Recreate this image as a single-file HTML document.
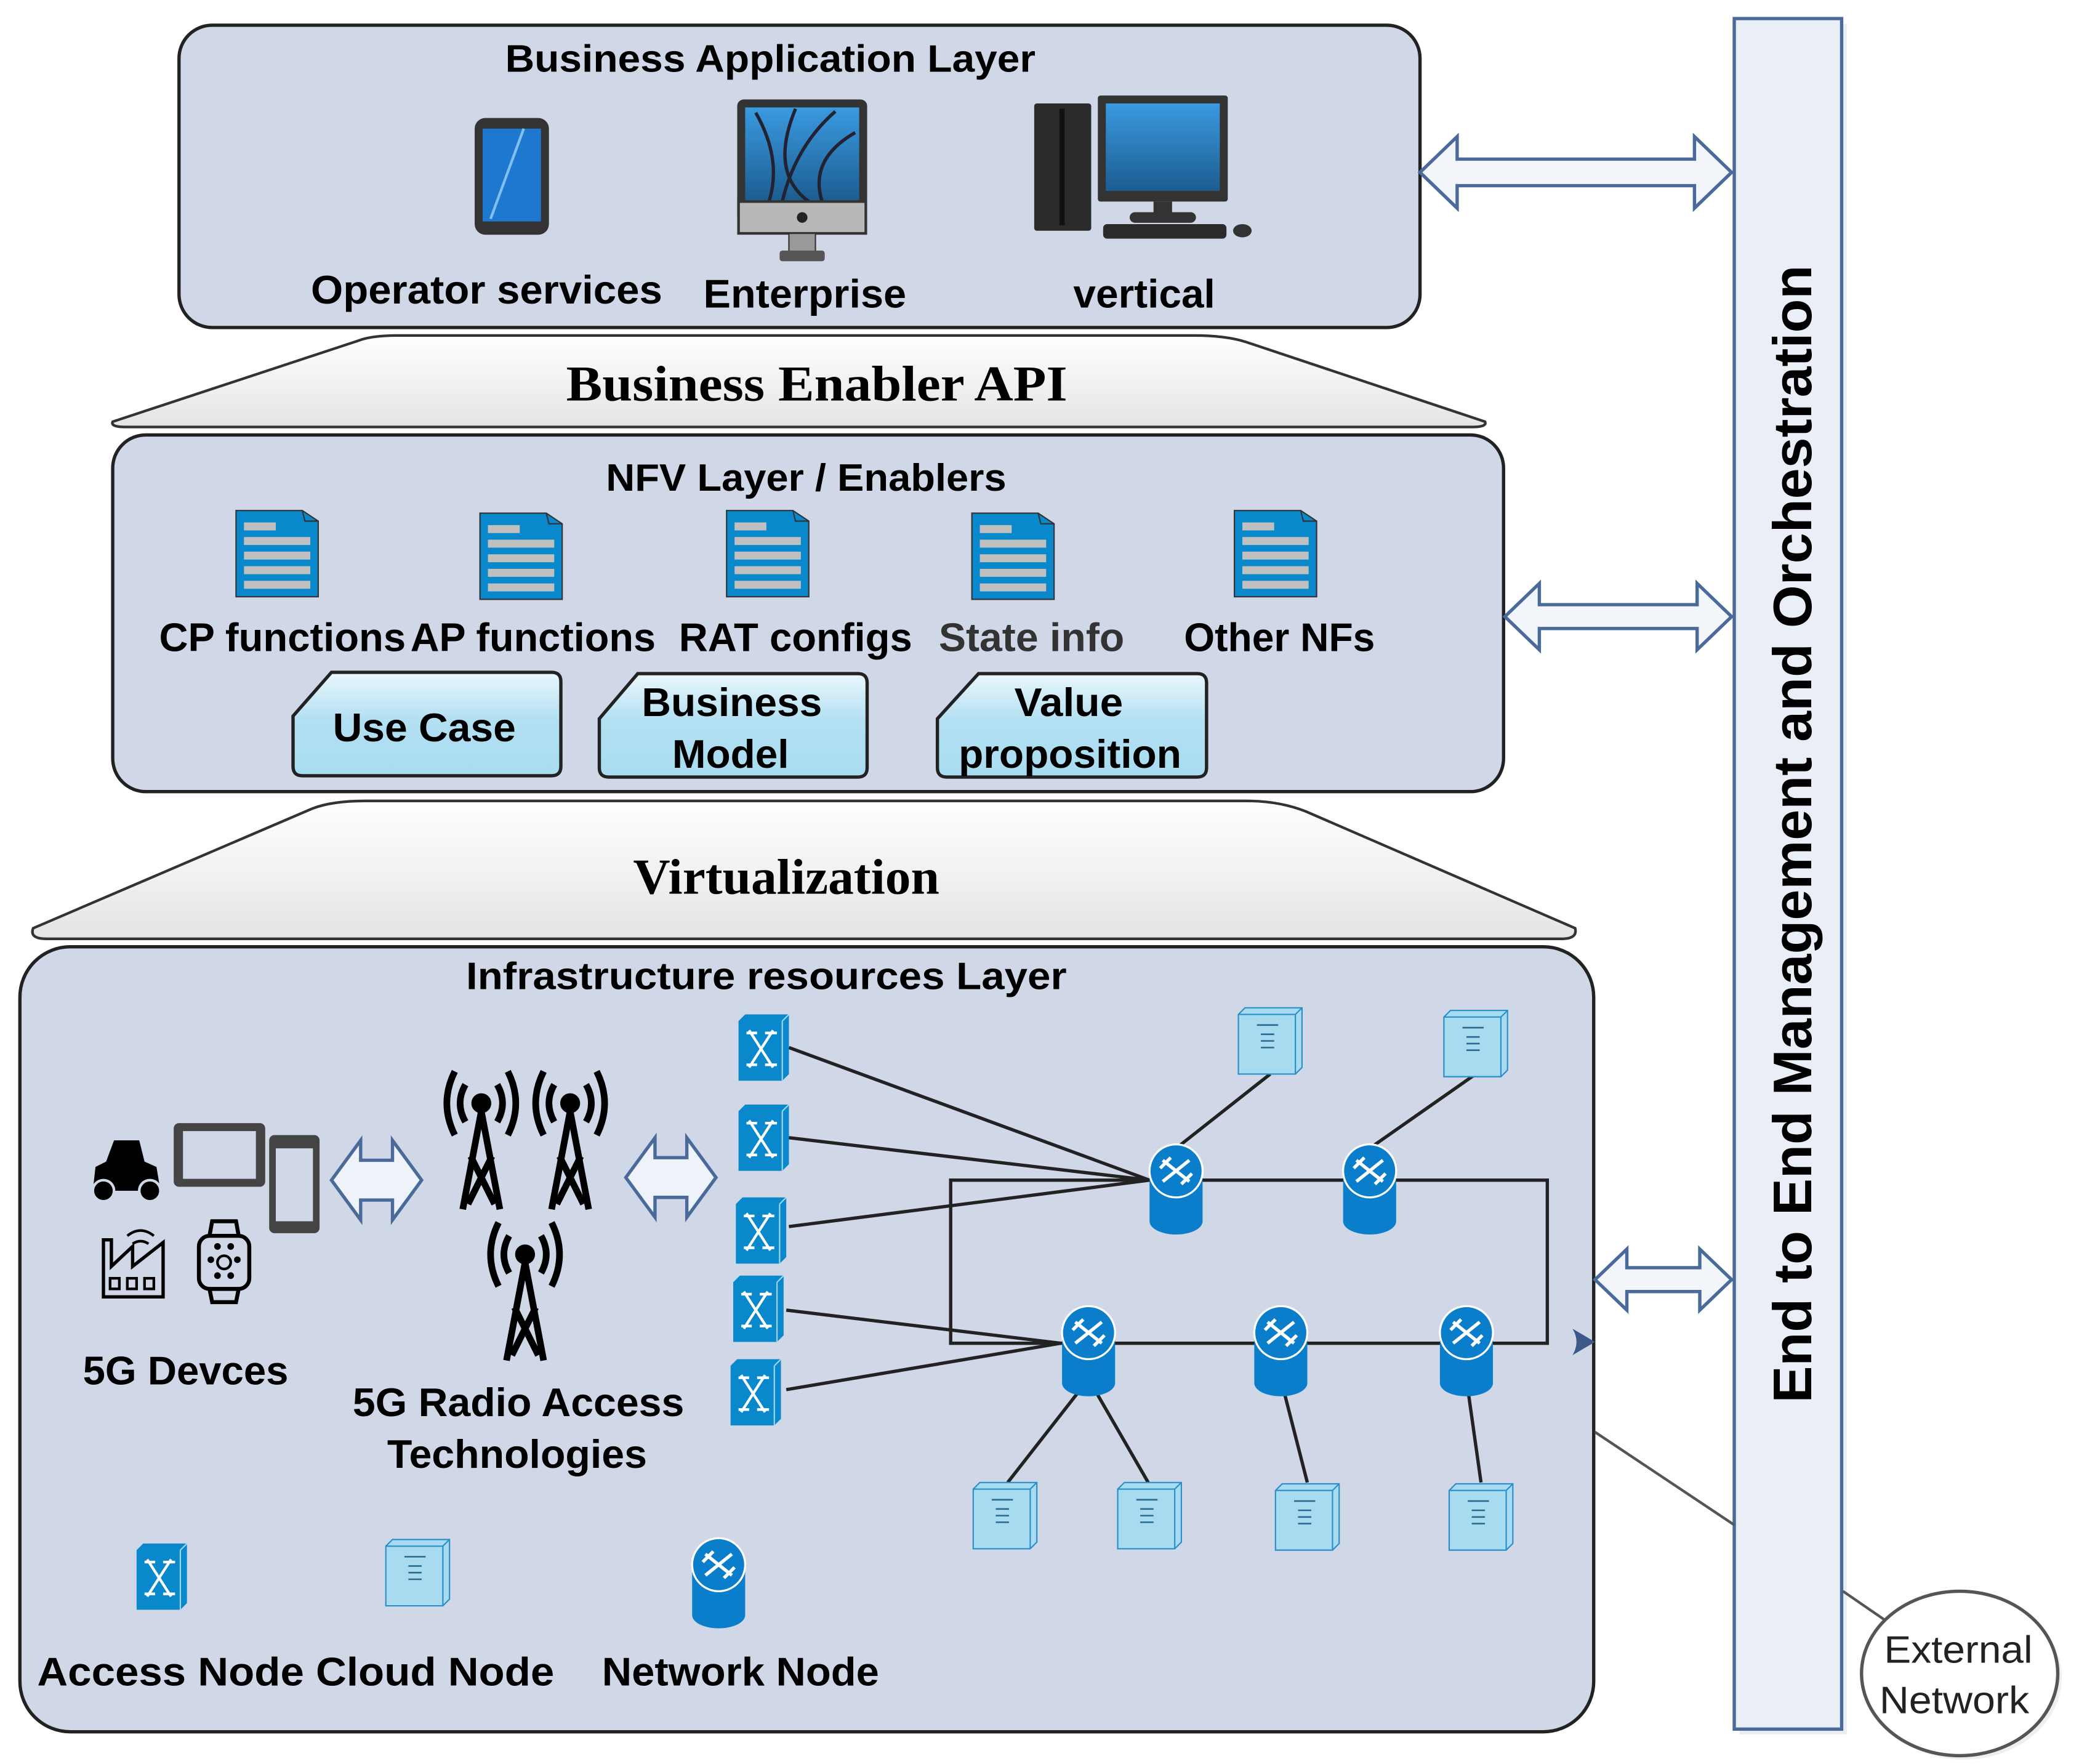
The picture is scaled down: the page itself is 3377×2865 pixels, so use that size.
<!DOCTYPE html>
<html><head><meta charset="utf-8"><style>
html,body{margin:0;padding:0;background:#fff;}
svg{display:block;}
text{font-family:"Liberation Sans",sans-serif;font-weight:bold;fill:#000;}
.serif{font-family:"Liberation Serif",serif;}
</style></head><body>
<svg width="3377" height="2865" viewBox="0 0 1568 1330.3" xmlns="http://www.w3.org/2000/svg">
<defs>
<linearGradient id="trap" x1="0" y1="0" x2="0" y2="1"><stop offset="0" stop-color="#ffffff"/><stop offset="1" stop-color="#e4e4e4"/></linearGradient>
<linearGradient id="btn" x1="0" y1="0" x2="0" y2="1"><stop offset="0" stop-color="#eaf7fc"/><stop offset="0.45" stop-color="#b3e0f2"/><stop offset="1" stop-color="#a9dcf1"/></linearGradient>
<linearGradient id="scr" x1="0" y1="0" x2="0" y2="1"><stop offset="0" stop-color="#3a9ae0"/><stop offset="1" stop-color="#1c5c90"/></linearGradient>
<g id="doc"><path d="M0,0 H50 L62,8 V65 H0 Z" fill="#0a88cc" stroke="#333" stroke-width="1"/><path d="M50,0 L52,8 L62,8" fill="none" stroke="#333"/>
<rect x="6" y="9" width="24" height="6" fill="#c0c0c0"/><rect x="6" y="20" width="50" height="6" fill="#c0c0c0"/><rect x="6" y="31" width="50" height="6" fill="#c0c0c0"/><rect x="6" y="42" width="50" height="6" fill="#c0c0c0"/><rect x="6" y="53" width="50" height="6" fill="#c0c0c0"/></g>
<g id="sw"><path d="M0,5 L5,0 H38 V45 L33,50 H0 Z" fill="#0a88cc"/><path d="M33,5 L38,0 M33,5 V50" stroke="#9fd6f0" stroke-width="1" fill="none"/>
<path d="M8,12 L26,40 M26,12 L8,40 M6,14 H14 M20,14 H29 M6,38 H14 M20,38 H29" stroke="#fff" stroke-width="2" fill="none"/></g>
<g id="srv"><path d="M0,5 L5,0 H48 V45 L43,50 H0 Z" fill="#a8daf0" stroke="#2a8fc8" stroke-width="1"/><path d="M43,5 L48,0 M43,5 V50 M0,5 H43" stroke="#2a8fc8" fill="none"/>
<path d="M14,13 H30 M17,20 H27 M17,25 H27 M17,30 H27" stroke="#2a6a90" stroke-width="1.2"/></g>
<g id="rt"><path d="M-20,0 V38 A20,10 0 0 0 20,38 V0" fill="#0a7ecb"/><ellipse cx="0" cy="0" rx="20" ry="20" fill="#0a7ecb" stroke="#fff" stroke-width="1.5"/>
<path d="M-10,-8 L10,8 M10,-8 L-10,8 M-12,-2 L-4,-10 M4,10 L12,2" stroke="#fff" stroke-width="2.5"/></g>
<g id="tw" fill="none" stroke="#000" stroke-width="5"><circle cx="0" cy="0" r="5" fill="#000"/>
<path d="M-12,-14 Q-20,0 -12,14 M12,-14 Q20,0 12,14 M-20,-24 Q-32,0 -20,24 M20,-24 Q32,0 20,24"/>
<path d="M0,6 L-14,80 M0,6 L14,80 M-8,40 L10,76 M8,40 L-10,76"/></g>
</defs>

<rect x="135" y="19" width="936" height="228" rx="25" fill="#d0d8e8" stroke="#222" stroke-width="2.5"/>
<text x="581" y="54" font-size="29" text-anchor="middle" textLength="400" lengthAdjust="spacingAndGlyphs">Business Application Layer</text>
<rect x="358" y="89" width="56" height="88" rx="8" fill="#333"/><rect x="364" y="97" width="44" height="70" fill="#1e78d0"/><path d="M370,165 L395,97" stroke="#7fc0f0" stroke-width="2"/>
<rect x="556" y="75" width="98" height="92" rx="5" fill="#333"/><rect x="562" y="81" width="86" height="71" fill="url(#scr)"/>
<path d="M570,85 Q590,120 580,152 M600,82 Q580,130 610,152 M630,84 Q600,110 590,152 M645,100 Q610,120 620,152" stroke="#223" stroke-width="2.5" fill="none"/>
<rect x="557" y="152" width="96" height="24" fill="#b8b8b8" stroke="#333" stroke-width="2"/><circle cx="605" cy="164" r="4" fill="#222"/>
<rect x="595" y="176" width="20" height="14" fill="#999" stroke="#333"/><rect x="588" y="189" width="34" height="8" rx="2" fill="#555"/>
<rect x="780" y="78" width="43" height="96" rx="2" fill="#2b2b2b"/><rect x="799" y="82" width="4" height="88" fill="#111"/>
<rect x="828" y="72" width="98" height="80" rx="2" fill="#333"/><rect x="834" y="78" width="86" height="66" fill="url(#scr)"/>
<rect x="870" y="152" width="14" height="10" fill="#333"/><rect x="852" y="160" width="50" height="8" rx="4" fill="#333"/>
<rect x="832" y="169" width="93" height="11" rx="3" fill="#2b2b2b"/><ellipse cx="937" cy="174" rx="7" ry="5" fill="#333"/>
<text x="367" y="229" font-size="30" text-anchor="middle" textLength="265" lengthAdjust="spacingAndGlyphs">Operator services</text>
<text x="607" y="232" font-size="30" text-anchor="middle" textLength="153" lengthAdjust="spacingAndGlyphs">Enterprise</text>
<text x="863" y="232" font-size="30" text-anchor="middle" textLength="107" lengthAdjust="spacingAndGlyphs">vertical</text>

<path d="M85,318 L270,257 Q280,253 300,253 H900 Q925,253 940,258 L1120,318 Q1122,322 1110,322 H95 Q83,322 85,318 Z" fill="url(#trap)" stroke="#333" stroke-width="2"/>
<text x="616" y="302" font-size="38" class="serif" text-anchor="middle" textLength="378" lengthAdjust="spacingAndGlyphs">Business Enabler API</text>

<rect x="85" y="328" width="1049" height="269" rx="25" fill="#d0d8e8" stroke="#222" stroke-width="2.5"/>
<text x="608" y="370" font-size="29" text-anchor="middle" textLength="302" lengthAdjust="spacingAndGlyphs">NFV Layer / Enablers</text>
<use href="#doc" x="178" y="385"/><use href="#doc" x="362" y="387"/><use href="#doc" x="548" y="385"/><use href="#doc" x="733" y="387"/><use href="#doc" x="931" y="385"/>
<text x="213" y="491" font-size="30" text-anchor="middle" textLength="186" lengthAdjust="spacingAndGlyphs">CP functions</text>
<text x="402" y="491" font-size="30" text-anchor="middle" textLength="185" lengthAdjust="spacingAndGlyphs">AP functions</text>
<text x="600" y="491" font-size="30" text-anchor="middle" textLength="176" lengthAdjust="spacingAndGlyphs">RAT configs</text>
<text x="778" y="491" font-size="30" text-anchor="middle" textLength="140" lengthAdjust="spacingAndGlyphs" style="fill:#333">State info</text>
<text x="965" y="491" font-size="30" text-anchor="middle" textLength="144" lengthAdjust="spacingAndGlyphs">Other NFs</text>
<path d="M221,540 L250,507 H416 Q423,507 423,514 V578 Q423,585 416,585 H228 Q221,585 221,578 Z" fill="url(#btn)" stroke="#222" stroke-width="2.5"/>
<text x="320" y="559" font-size="30" text-anchor="middle" textLength="138" lengthAdjust="spacingAndGlyphs">Use Case</text>
<path d="M452,542 L481,508 H647 Q654,508 654,515 V579 Q654,586 647,586 H459 Q452,586 452,579 Z" fill="url(#btn)" stroke="#222" stroke-width="2.5"/>
<text x="552" y="540" font-size="30" text-anchor="middle" textLength="136" lengthAdjust="spacingAndGlyphs">Business</text><text x="551" y="579" font-size="30" text-anchor="middle" textLength="88" lengthAdjust="spacingAndGlyphs">Model</text>
<path d="M707,542 L738,508 H903 Q910,508 910,515 V579 Q910,586 903,586 H714 Q707,586 707,579 Z" fill="url(#btn)" stroke="#222" stroke-width="2.5"/>
<text x="806" y="540" font-size="30" text-anchor="middle" textLength="82" lengthAdjust="spacingAndGlyphs">Value</text><text x="807" y="579" font-size="30" text-anchor="middle" textLength="168" lengthAdjust="spacingAndGlyphs">proposition</text>

<path d="M25,700 L235,610 Q250,604 275,604 H940 Q965,604 985,612 L1188,700 Q1190,708 1178,708 H35 Q22,708 25,700 Z" fill="url(#trap)" stroke="#333" stroke-width="2"/>
<text x="593" y="674" font-size="38" class="serif" text-anchor="middle" textLength="231" lengthAdjust="spacingAndGlyphs">Virtualization</text>

<rect x="15" y="714" width="1187" height="592" rx="38" fill="#d0d8e8" stroke="#222" stroke-width="2.5"/>
<text x="578" y="746" font-size="29" text-anchor="middle" textLength="453" lengthAdjust="spacingAndGlyphs">Infrastructure resources Layer</text>

<path d="M70,898 L72,880 L80,876 L86,860 H105 L109,876 L118,880 L121,898 Z" fill="#000"/><circle cx="78" cy="898" r="8" fill="#000" stroke="#d0d8e8" stroke-width="2"/><circle cx="113" cy="898" r="8" fill="#000" stroke="#d0d8e8" stroke-width="2"/>
<rect x="131" y="847" width="69" height="48" rx="4" fill="#444"/><rect x="138" y="853" width="55" height="36" fill="#d0d8e8"/>
<rect x="203" y="856" width="38" height="74" rx="4" fill="#444"/><rect x="208" y="866" width="28" height="55" fill="#d0d8e8"/>
<path d="M78,978 V935 H84 V955 L100,940 V955 L123,937 V978 Z" fill="none" stroke="#000" stroke-width="2.5"/><rect x="83" y="964" width="7" height="8" fill="none" stroke="#000" stroke-width="2"/><rect x="96" y="964" width="7" height="8" fill="none" stroke="#000" stroke-width="2"/><rect x="109" y="964" width="7" height="8" fill="none" stroke="#000" stroke-width="2"/>
<path d="M96,932 Q106,924 116,932 M100,938 Q106,934 112,938" fill="none" stroke="#000" stroke-width="2"/>
<rect x="150" y="932" width="38" height="40" rx="8" fill="none" stroke="#000" stroke-width="3"/><path d="M158,932 L160,921 H178 L180,932 M158,972 L160,982 H178 L180,972" fill="none" stroke="#000" stroke-width="3"/>
<circle cx="169" cy="952" r="5" fill="none" stroke="#000" stroke-width="2"/><circle cx="159" cy="950" r="2.5" fill="#000"/><circle cx="179" cy="950" r="2.5" fill="#000"/><circle cx="164" cy="940" r="2.5" fill="#000"/><circle cx="174" cy="940" r="2.5" fill="#000"/><circle cx="164" cy="962" r="2.5" fill="#000"/><circle cx="174" cy="962" r="2.5" fill="#000"/>
<text x="140" y="1044" font-size="30" text-anchor="middle" textLength="155" lengthAdjust="spacingAndGlyphs">5G Devces</text>
<path d="M250,890 L272,860 V875 H296 V860 L318,890 L296,920 V905 H272 V920 Z" fill="#eef3f9" stroke="#4a6a9a" stroke-width="2.5"/>
<path d="M472,888 L494,858 V873 H518 V858 L540,888 L518,918 V903 H494 V918 Z" fill="#eef3f9" stroke="#4a6a9a" stroke-width="2.5"/>
<use href="#tw" x="363" y="832"/><use href="#tw" x="430" y="832"/><use href="#tw" x="396" y="946"/>
<text x="391" y="1068" font-size="30" text-anchor="middle" textLength="250" lengthAdjust="spacingAndGlyphs">5G Radio Access</text>
<text x="390" y="1107" font-size="30" text-anchor="middle" textLength="196" lengthAdjust="spacingAndGlyphs">Technologies</text>

<g stroke="#222" stroke-width="2.5" fill="none">
<path d="M595,790 L867,890 M595,858 L867,890 M595,925 L867,890 M593,988 L800,1013 M593,1048 L800,1013"/>
<rect x="717" y="890" width="450" height="123"/>
<path d="M958,810 L887,866 M1113,810 L1033,866 M821,1040 L760,1118 M821,1040 L866,1118 M966,1040 L986,1118 M1106,1040 L1117,1118"/>
</g>
<use href="#sw" x="557" y="765"/><use href="#sw" x="557" y="833"/><use href="#sw" x="555" y="903"/><use href="#sw" x="553" y="962"/><use href="#sw" x="551" y="1025"/>
<use href="#rt" x="887" y="883"/><use href="#rt" x="1033" y="883"/><use href="#rt" x="821" y="1005"/><use href="#rt" x="966" y="1005"/><use href="#rt" x="1106" y="1005"/>
<use href="#srv" x="934" y="760"/><use href="#srv" x="1089" y="762"/>
<use href="#srv" x="734" y="1118"/><use href="#srv" x="843" y="1118"/><use href="#srv" x="962" y="1119"/><use href="#srv" x="1093" y="1119"/>
<path d="M1186,1002 L1203,1012 L1186,1022 Q1192,1012 1186,1002 Z" fill="#3a5a8a"/>

<use href="#sw" x="103" y="1164"/><use href="#srv" x="291" y="1161"/><use href="#rt" x="542" y="1180"/>
<text x="28" y="1271" font-size="30" textLength="390" lengthAdjust="spacingAndGlyphs">Access  Node Cloud  Node</text>
<text x="454" y="1271" font-size="30" textLength="209" lengthAdjust="spacingAndGlyphs">Network Node</text>

<rect x="1312" y="18" width="81" height="1290" fill="#dde3ee" opacity="0.6"/>
<rect x="1308" y="14" width="81" height="1290" fill="#e9eef7" stroke="#4a6a9a" stroke-width="2.5"/>
<text transform="translate(1366,629) rotate(-90)" font-size="41" text-anchor="middle" textLength="858" lengthAdjust="spacingAndGlyphs">End to End Management and Orchestration</text>

<path d="M1071,130 L1099,103 V120 H1278 V103 L1306,130 L1278,157 V140 H1099 V157 Z" fill="#f2f5fa" stroke="#4a6a9a" stroke-width="2.5"/>
<path d="M1135,465 L1161,440 V456 H1280 V440 L1306,465 L1280,490 V474 H1161 V490 Z" fill="#f2f5fa" stroke="#4a6a9a" stroke-width="2.5"/>
<path d="M1203,965 L1227,942 V956 H1282 V942 L1306,965 L1282,988 V974 H1227 V988 Z" fill="#f2f5fa" stroke="#4a6a9a" stroke-width="2.5"/>

<path d="M1203,1080 L1308,1150 M1390,1200 L1422,1222" stroke="#555" stroke-width="2"/>
<ellipse cx="1481" cy="1265" rx="74" ry="62" fill="#e8e8e8" opacity="0.7"/>
<ellipse cx="1478" cy="1262" rx="74" ry="62" fill="#fff" stroke="#555" stroke-width="2.5"/>
<text x="1477" y="1254" font-size="29" text-anchor="middle" textLength="112" lengthAdjust="spacingAndGlyphs" style="font-weight:normal;fill:#222">External</text>
<text x="1474" y="1292" font-size="29" text-anchor="middle" textLength="113" lengthAdjust="spacingAndGlyphs" style="font-weight:normal;fill:#222">Network</text>
</svg>
</body></html>
